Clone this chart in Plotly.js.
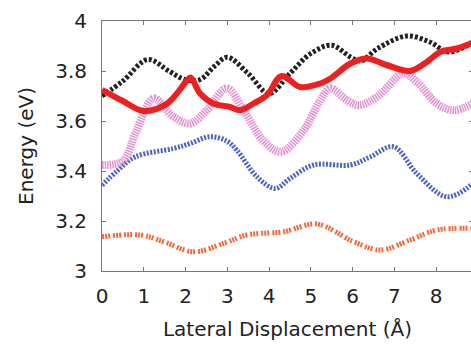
<!DOCTYPE html>
<html><head><meta charset="utf-8">
<script src="https://cdn.plot.ly/plotly-3.0.1.min.js"></script>
<style>body{margin:0;padding:0;background:#fff;overflow:hidden}</style>
</head><body><div id="chart"></div>
<script>
const blackX = [0, 0.5, 1.1, 1.6, 2.0, 2.35, 2.7, 3.0, 3.5, 4.0, 4.5, 5.0, 5.5, 5.95, 6.2, 6.6, 7.3, 7.85, 8.3, 8.89];
const blackY = [3.70, 3.76, 3.846, 3.80, 3.765, 3.766, 3.82, 3.855, 3.79, 3.71, 3.79, 3.87, 3.903, 3.856, 3.84, 3.89, 3.94, 3.916, 3.876, 3.916];
const redX = [0, 0.5, 1.0, 1.56, 2.04, 2.12, 2.35, 2.67, 3.07, 3.31, 3.63, 3.95, 4.3, 4.75, 5.23, 5.47, 5.95, 6.35, 6.83, 7.38, 7.78, 8.1, 8.5, 8.89];
const redY = [3.725, 3.68, 3.64, 3.67, 3.763, 3.774, 3.71, 3.67, 3.656, 3.643, 3.67, 3.703, 3.78, 3.736, 3.75, 3.77, 3.83, 3.85, 3.823, 3.80, 3.836, 3.876, 3.89, 3.915];
const pinkX = [0, 0.5, 0.8, 1.24, 1.71, 2.11, 2.51, 2.99, 3.39, 3.87, 4.29, 4.83, 5.23, 5.47, 5.87, 6.15, 6.59, 7.22, 7.54, 8.02, 8.42, 8.89];
const pinkY = [3.424, 3.44, 3.55, 3.69, 3.617, 3.59, 3.643, 3.73, 3.643, 3.52, 3.477, 3.563, 3.683, 3.73, 3.683, 3.663, 3.697, 3.79, 3.756, 3.67, 3.643, 3.67];
const blueX = [0, 0.36, 0.8, 1.71, 2.11, 2.59, 2.99, 3.23, 3.71, 4.15, 4.5, 5.07, 5.95, 6.43, 6.98, 7.54, 8.26, 8.89];
const blueY = [3.343, 3.40, 3.457, 3.49, 3.51, 3.537, 3.52, 3.483, 3.377, 3.33, 3.37, 3.424, 3.424, 3.457, 3.497, 3.39, 3.297, 3.35];
const orangeX = [0, 0.92, 1.48, 2.19, 2.91, 3.47, 4.35, 5.15, 6.03, 6.67, 7.38, 8.02, 8.89];
const orangeY = [3.137, 3.144, 3.117, 3.077, 3.11, 3.144, 3.157, 3.188, 3.117, 3.084, 3.124, 3.164, 3.17];
const xTicks = [0, 1, 2, 3, 4, 5, 6, 7, 8];
const yTicks = [3, 3.2, 3.4, 3.6, 3.8, 4];

function tr(x, y, color, width, dash) {
  return {x: x, y: y, mode: 'lines', type: 'scatter', hoverinfo: 'skip',
    line: {color: color, width: width, dash: dash, shape: 'spline', smoothing: 1}};
}
const data = [
  tr(blueX, blueY, '#4d63c4', 5, '2px,1.5px'),
  tr(orangeX, orangeY, '#f26a3c', 5, '2px,1px,2px,1px,2px,3px'),
  tr(pinkX, pinkY, '#e48fcf', 8, '1.5px,1px'),
  tr(blackX, blackY, '#222222', 5, '3px,2px'),
  tr(redX, redY, '#ee1f1f', 6, 'solid')
];
const FONT = 'DejaVu Sans, Verdana, sans-serif';
const axisCommon = {
  showline: true, linecolor: '#777', linewidth: 1, mirror: 'ticks',
  ticks: 'inside', ticklen: 4, tickcolor: '#777', showgrid: false, zeroline: false,
  tickfont: {family: FONT, size: 20, color: '#222'}
};
const layout = {
  width: 473, height: 345,
  margin: {l: 102, r: 0, t: 21, b: 74},
  paper_bgcolor: '#fff', plot_bgcolor: '#fff', showlegend: false,
  xaxis: Object.assign({}, axisCommon, {
    range: [0, 8.886], tickvals: xTicks, ticktext: xTicks.map(String),
    ticklabelstandoff: 7,
    title: {text: 'Lateral Displacement (Å)', standoff: 14,
      font: {family: FONT, size: 20, color: '#222'}}
  }),
  yaxis: Object.assign({}, axisCommon, {
    range: [3, 4], tickvals: yTicks, ticktext: yTicks.map(v => String(v)),
    ticklabelstandoff: 10,
    title: {text: 'Energy (eV)', standoff: 16,
      font: {family: FONT, size: 20, color: '#222'}}
  })
};
Plotly.newPlot('chart', data, layout, {displayModeBar: false, staticPlot: true});
</script></body></html>
